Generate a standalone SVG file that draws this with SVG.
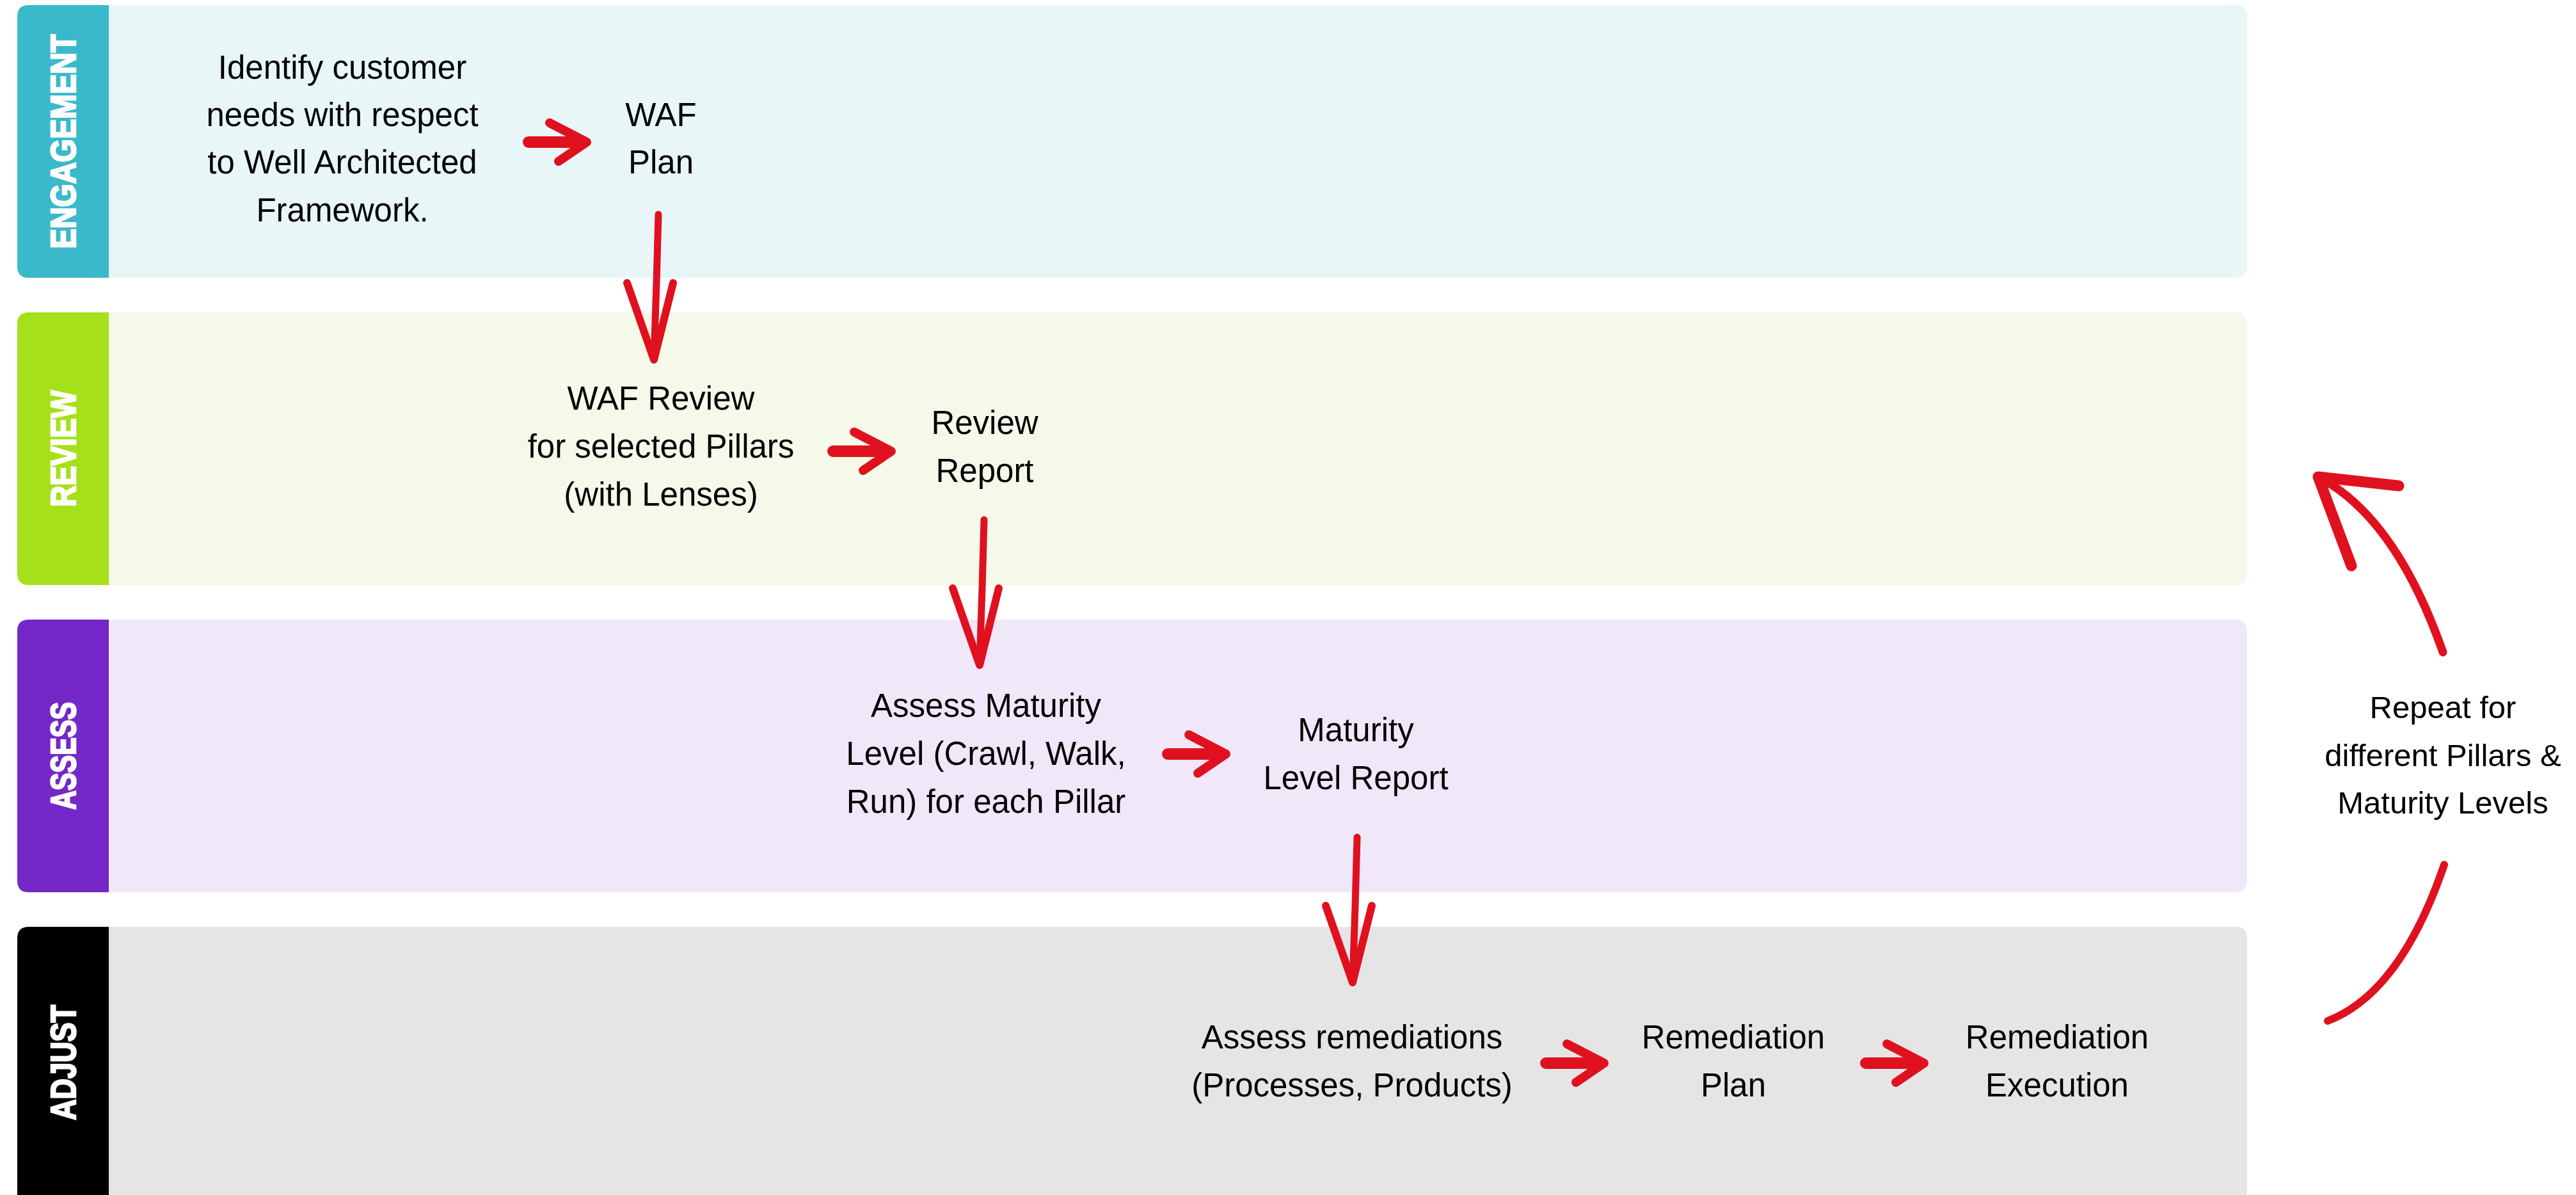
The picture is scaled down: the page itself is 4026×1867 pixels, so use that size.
<svg xmlns="http://www.w3.org/2000/svg" xmlns:xlink="http://www.w3.org/1999/xlink" width="4026" height="1867" viewBox="0 0 4026 1867">
<style>
.lbl{font-family:"Liberation Sans",Arial,sans-serif;font-weight:bold;font-size:56px;fill:#ffffff;stroke:#ffffff;stroke-width:2.5px;text-anchor:middle}
.txt{font-family:"Liberation Sans",Arial,sans-serif;font-size:51px;fill:#000000;text-anchor:middle}
.rep{font-size:49px}
.br{fill:none;stroke:#E0111F;stroke-linecap:round;stroke-linejoin:round}
</style>
<defs>
<g id="harrow">
<path class="br" d="M -91 0 L -8 0" stroke-width="18"/>
<path class="br" d="M -58 -30 L 0 0 L -44 30" stroke-width="14"/>
</g>
<g id="varrow">
<path class="br" d="M 7 -227 L 4 -120 L 0 0" stroke-width="11"/>
<path class="br" d="M -42 -120 L 0 0 L 30 -120" stroke-width="12"/>
</g>
</defs>
<rect width="4026" height="1867" fill="#ffffff"/>
<g id="lane-engagement">
<rect x="27" y="8" width="3485" height="426" rx="16" fill="#E8F6F8"/>
<path d="M170 8 L45 8 Q27 8 27 26 L27 416 Q27 434 45 434 L170 434 Z" fill="#3AB9CA"/>
<text class="lbl" transform="translate(98,221) rotate(-90)" x="0" y="20" textLength="335" lengthAdjust="spacingAndGlyphs">ENGAGEMENT</text>
</g>
<g id="lane-review">
<rect x="27" y="488" width="3485" height="426" rx="16" fill="#F4F9E9"/>
<path d="M170 488 L45 488 Q27 488 27 506 L27 896 Q27 914 45 914 L170 914 Z" fill="#A5E01A"/>
<text class="lbl" transform="translate(98,701) rotate(-90)" x="0" y="20" textLength="182" lengthAdjust="spacingAndGlyphs">REVIEW</text>
</g>
<g id="lane-assess">
<rect x="27" y="968" width="3485" height="426" rx="16" fill="#F0E7F8"/>
<path d="M170 968 L45 968 Q27 968 27 986 L27 1376 Q27 1394 45 1394 L170 1394 Z" fill="#7428C8"/>
<text class="lbl" transform="translate(98,1181) rotate(-90)" x="0" y="20" textLength="168" lengthAdjust="spacingAndGlyphs">ASSESS</text>
</g>
<g id="lane-adjust">
<rect x="27" y="1448" width="3485" height="460" rx="16" fill="#E5E5E5"/>
<path d="M170 1448 L45 1448 Q27 1448 27 1466 L27 1908 L170 1908 Z" fill="#000000"/>
<text class="lbl" transform="translate(98,1660) rotate(-90)" x="0" y="20" textLength="180" lengthAdjust="spacingAndGlyphs">ADJUST</text>
</g>
<g id="node-identify">
<text class="txt" x="535" y="123">Identify customer</text>
<text class="txt" x="535" y="197">needs with respect</text>
<text class="txt" x="535" y="271">to Well Architected</text>
<text class="txt" x="535" y="346">Framework.</text>
</g>
<g id="node-waf-plan">
<text class="txt" x="1033" y="197">WAF</text>
<text class="txt" x="1033" y="271">Plan</text>
</g>
<g id="node-waf-review">
<text class="txt" x="1033" y="640">WAF Review</text>
<text class="txt" x="1033" y="715">for selected Pillars</text>
<text class="txt" x="1033" y="790">(with Lenses)</text>
</g>
<g id="node-review-report">
<text class="txt" x="1539" y="678">Review</text>
<text class="txt" x="1539" y="753">Report</text>
</g>
<g id="node-assess-maturity">
<text class="txt" x="1541" y="1120">Assess Maturity</text>
<text class="txt" x="1541" y="1195">Level (Crawl, Walk,</text>
<text class="txt" x="1541" y="1270">Run) for each Pillar</text>
</g>
<g id="node-maturity-report">
<text class="txt" x="2119" y="1158">Maturity</text>
<text class="txt" x="2119" y="1233">Level Report</text>
</g>
<g id="node-assess-remediations">
<text class="txt" x="2113" y="1638">Assess remediations</text>
<text class="txt" x="2113" y="1713">(Processes, Products)</text>
</g>
<g id="node-remediation-plan">
<text class="txt" x="2709" y="1638">Remediation</text>
<text class="txt" x="2709" y="1713">Plan</text>
</g>
<g id="node-remediation-execution">
<text class="txt" x="3215" y="1638">Remediation</text>
<text class="txt" x="3215" y="1713">Execution</text>
</g>
<g id="node-repeat">
<text class="txt rep" x="3818" y="1122">Repeat for</text>
<text class="txt rep" x="3818" y="1197">different Pillars &amp;</text>
<text class="txt rep" x="3818" y="1271">Maturity Levels</text>
</g>
<g id="connectors">
<use xlink:href="#harrow" x="917" y="222"/>
<use xlink:href="#varrow" x="1022" y="562"/>
<use xlink:href="#harrow" x="1393" y="705"/>
<use xlink:href="#varrow" x="1531" y="1039"/>
<use xlink:href="#harrow" x="1916" y="1178"/>
<use xlink:href="#varrow" x="2114" y="1535"/>
<use xlink:href="#harrow" x="2507" y="1661"/>
<use xlink:href="#harrow" x="3007" y="1661"/>
<path class="br" d="M 3818 1019 Q 3744 808 3623 745" stroke-width="13"/>
<path class="br" d="M 3749 759 L 3623 745 L 3675 884" stroke-width="17"/>
<path class="br" d="M 3820 1351 Q 3752 1551 3638 1595" stroke-width="12"/>
</g>
</svg>
